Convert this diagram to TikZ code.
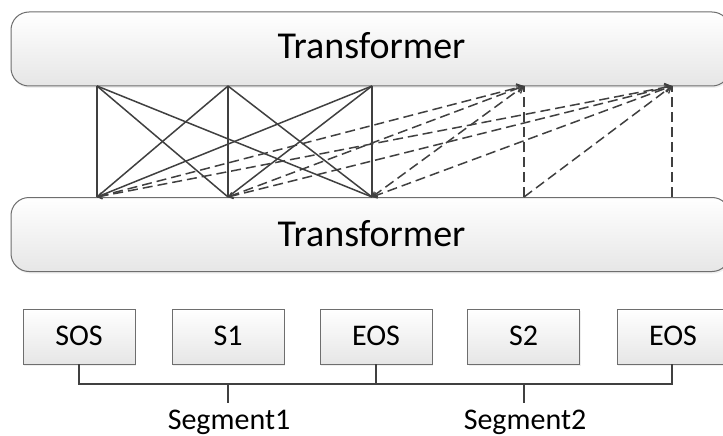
\documentclass[tikz,border=0pt]{standalone}
\usepackage{fontspec}
\setmainfont{Carlito}
\usetikzlibrary{arrows.meta,shadows}
\definecolor{linegray}{HTML}{404040}
\definecolor{boxedge}{HTML}{6E6E6E}
\definecolor{boxlow}{HTML}{E6E6E6}
\tikzset{
  tbox/.style={draw=boxedge, line width=1pt, rounded corners=18pt, top color=white, bottom color=boxlow,
    minimum width=719pt, minimum height=74pt, inner sep=0pt,
    drop shadow={opacity=0.12, shadow xshift=1pt, shadow yshift=-2pt}},
  tlabel/.style={font=\fontsize{38}{40}\selectfont, anchor=base, inner sep=0pt},
  tokbox/.style={draw=boxedge, line width=0.9pt, top color=white, bottom color=boxlow,
    minimum width=112pt, minimum height=55pt, inner sep=0pt,
    drop shadow={opacity=0.12, shadow xshift=1pt, shadow yshift=-1.5pt}},
  toklabel/.style={font=\fontsize{30}{32}\selectfont, anchor=base, inner sep=0pt},
  att/.style={draw=linegray, line width=1.5pt},
  attd/.style={draw=linegray, line width=1.5pt, dash pattern=on 10pt off 5pt},
  tipd/.style={arrows={Straight Barb[length=4pt,width=6pt,line width=1.2pt]-Straight Barb[length=6pt,width=8pt,line width=1.3pt]}},
  tipe/.style={arrows={-Straight Barb[length=6pt,width=8pt,line width=1.3pt]}},
  brace/.style={draw=linegray, line width=1.5pt},
}
\begin{document}
\begin{tikzpicture}[x=1pt,y=-1pt]
\useasboundingbox (0,0) rectangle (723,436);
\fill[white] (0,0) rectangle (723,436);
\clip (0,0) rectangle (723,436);

% Transformer blocks
\node[tbox] (upper) at (370.5,49) {};
\node[tlabel] (upperlabel) at (371.5,59) {Transformer};
\node[tbox] (lower) at (370.5,234.5) {};
\node[tlabel] (lowerlabel) at (371.5,246) {Transformer};

% attention end points
\coordinate (t1) at (97,86);
\coordinate (t2) at (228,86);
\coordinate (t3) at (372,86);
\coordinate (t4) at (524,86);
\coordinate (t5) at (672,86);
\coordinate (b1) at (97,197);
\coordinate (b2) at (228,197);
\coordinate (b3) at (372,197);
\coordinate (b4) at (524,197);
\coordinate (b5) at (672,197);

% solid attention within segment 1
\draw[att] (t1) -- (b1);
\draw[att] (t2) -- (b2);
\draw[att] (t3) -- (b3);
\draw[att] (t1) -- (b2);
\draw[att] (t1) -- (b3);
\draw[att] (t2) -- (b1);
\draw[att] (t2) -- (b3);
\draw[att] (t3) -- (b1);
\draw[att] (t3) -- (b2);

% dashed attention to segment 2
\draw[attd] (b4) -- (t4);
\draw[attd] (b5) -- (t5);
\draw[attd,tipd] (b1) -- (t4);
\draw[attd,tipd] (b2) -- (t4);
\draw[attd,tipd] (b3) -- (t4);
\draw[attd,tipd] (b1) -- (t5);
\draw[attd,tipd] (b2) -- (t5);
\draw[attd,tipd] (b3) -- (t5);
\draw[attd,tipe] (b4) -- (t5);

% tokens
\node[tokbox] (sos) at (79,336.5) {};
\node[toklabel] (soslabel) at (79,345) {SOS};
\node[tokbox] (s1) at (228,336.5) {};
\node[toklabel] (s1label) at (228,345) {S1};
\node[tokbox] (eos1) at (376,336.5) {};
\node[toklabel] (eos1label) at (376,345) {EOS};
\node[tokbox] (s2) at (523.5,336.5) {};
\node[toklabel] (s2label) at (523.5,345) {S2};
\node[tokbox] (eos2) at (673,336.5) {};
\node[toklabel] (eos2label) at (673,345) {EOS};

% bracket
\coordinate (bl) at (79,384);
\coordinate (bm) at (376,384);
\coordinate (br) at (672,384);
\coordinate (k1) at (228,384);
\coordinate (k2) at (524,384);
\coordinate (k1e) at (228,403);
\coordinate (k2e) at (524,403);
\draw[brace] (sos.south) -- (bl) -- (br) -- (eos2.south -| br);
\draw[brace] (eos1.south) -- (bm);
\draw[brace] (k1) -- (k1e);
\draw[brace] (k2) -- (k2e);
\node[toklabel] (seg1) at (229,429) {Segment1};
\node[toklabel] (seg2) at (525,429) {Segment2};
\end{tikzpicture}
\end{document}
